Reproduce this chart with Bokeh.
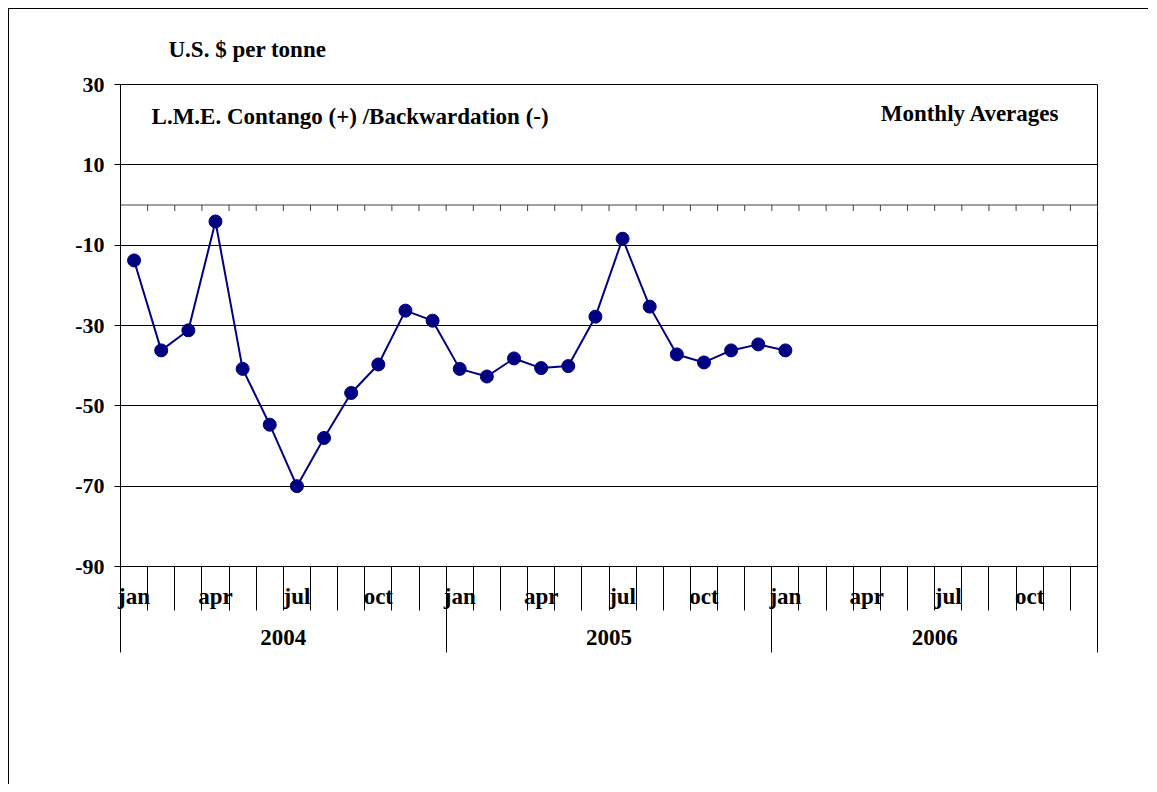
from bokeh.plotting import figure
from bokeh.models import Range1d, LinearAxis, FixedTicker, Grid, Label, Title, ColumnDataSource
from bokeh.embed import file_html
from bokeh.resources import INLINE

# ---- data -------------------------------------------------------------
months = ["jan", "feb", "mar", "apr", "may", "jun",
          "jul", "aug", "sep", "oct", "nov", "dec"]
years = ["2004", "2005", "2006"]
labelled_months = ["jan", "apr", "jul", "oct"]
# LME contango (+) / backwardation (-), US$ per tonne, monthly averages Jan 2004 - Jan 2006
contango = [-13.8, -36.2, -31.2, -4.1, -40.8, -54.7, -70.0, -58.0, -46.8, -39.7, -26.3, -28.8,
            -40.8, -42.7, -38.2, -40.6, -40.1, -27.8, -8.4, -25.3, -37.2, -39.2, -36.2, -34.7,
            -36.2]
y_ticks = [30, 10, -10, -30, -50, -70, -90]
y_min, y_max = -90, 30

# ---- derived positions (month index scale) ---------------------------
n_months = len(months) * len(years)
x_pos = [i + 0.5 for i in range(len(contango))]
boundaries = list(range(n_months + 1))
month_label_pos = [i + 0.5 for i in range(n_months) if months[i % 12] in labelled_months]
year_centers = [12 * k + 6 for k in range(len(years))]
year_bounds = [12 * k for k in range(len(years) + 1)]

FONT = "Liberation Serif"
FS = "23px"
NAVY = "#000080"

p = figure(width=1140, height=776, output_backend="svg", toolbar_location=None,
           x_range=Range1d(0, n_months), y_range=Range1d(y_min, y_max),
           x_axis_type=None, y_axis_type=None,
           min_border_left=111, min_border_right=52, min_border_top=75, min_border_bottom=219,
           background_fill_color="white", border_fill_color="white")
p.outline_line_color = "black"
p.outline_line_width = 1
p.styles = {"margin-left": "8px", "margin-top": "8px",
            "border-left": "1px solid black", "border-top": "1px solid black"}

label_style = dict(major_label_text_font=FONT, major_label_text_font_style="bold",
                   major_label_text_font_size=FS, major_label_text_color="black")

# y axis + horizontal gridlines
yticker = FixedTicker(ticks=y_ticks, minor_ticks=[])
yaxis = LinearAxis(ticker=yticker, major_tick_out=6, major_tick_in=0,
                   minor_tick_out=0, minor_tick_in=0,
                   axis_line_color="black", major_tick_line_color="black",
                   major_label_overrides={t: str(t) for t in y_ticks},
                   major_label_standoff=10,
                   major_label_text_font=FONT, major_label_text_font_style="bold",
                   major_label_text_font_size="22px", major_label_text_color="black")
p.add_layout(yaxis, "left")
p.add_layout(Grid(dimension=1, ticker=yticker, grid_line_color="black", grid_line_width=1), "center")

# month axis (separators at every month boundary, labels for jan/apr/jul/oct)
month_axis = LinearAxis(ticker=FixedTicker(ticks=month_label_pos, minor_ticks=boundaries),
                        major_tick_out=0, major_tick_in=0, minor_tick_out=44, minor_tick_in=0,
                        minor_tick_line_color="black", axis_line_color="black",
                        major_label_overrides={pos: months[int(pos) % 12] for pos in month_label_pos},
                        major_label_standoff=-27, **label_style)
p.add_layout(month_axis, "below")

# year axis (long separators at year boundaries)
year_axis = LinearAxis(ticker=FixedTicker(ticks=year_centers, minor_ticks=year_bounds),
                       major_tick_out=0, major_tick_in=0, minor_tick_out=41, minor_tick_in=8,
                       minor_tick_line_color="black", axis_line_color=None,
                       major_label_overrides={c: y for c, y in zip(year_centers, years)},
                       major_label_standoff=-23, **label_style)
p.add_layout(year_axis, "below")

# category axis crossing at zero with its tick marks
p.segment(x0=[0], x1=[n_months], y0=[0], y1=[0], line_color="#404040", line_width=1)
p.segment(x0=boundaries, x1=boundaries, y0=[0] * len(boundaries), y1=[-1.5] * len(boundaries),
          line_color="#404040", line_width=1)

# series
src = ColumnDataSource(dict(x=x_pos, y=contango))
p.line("x", "y", source=src, line_color=NAVY, line_width=2)
p.scatter("x", "y", source=src, size=13, fill_color=NAVY, line_color=NAVY)

# unit caption above the plot area
p.add_layout(Title(text="U.S. $ per tonne", align="left", offset=48, standoff=46,
                   text_font=FONT, text_font_style="bold", text_font_size=FS,
                   text_color="black"), "above")

text_style = dict(text_font=FONT, text_font_style="bold", text_font_size=FS,
                  text_color="black", text_baseline="alphabetic", text_align="center")
p.add_layout(Label(x=8.46, y=22.0, text="L.M.E. Contango (+) /Backwardation (-)", **text_style))
p.add_layout(Label(x=31.31, y=22.8, text="Monthly Averages", **text_style))

open("out.html", "w").write(file_html(p, INLINE))
